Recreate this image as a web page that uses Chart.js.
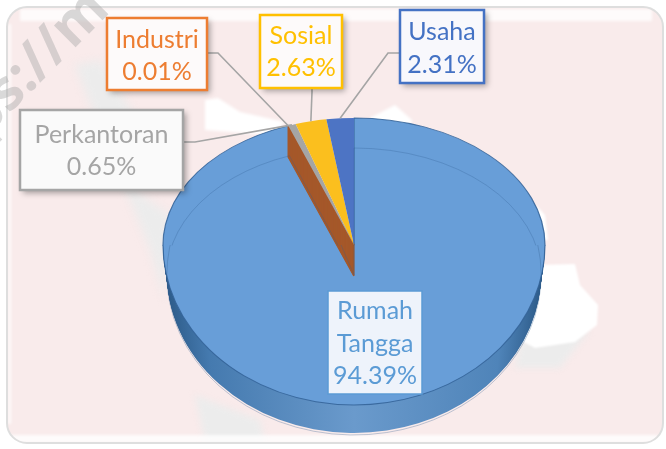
<!DOCTYPE html>
<html>
<head>
<meta charset="utf-8">
<style>html,body{margin:0;padding:0;background:#fff;overflow:hidden}canvas{display:block}</style>
<script src="https://cdn.jsdelivr.net/npm/chart.js@4"></script>
</head>
<body>
<canvas id="c" width="666" height="449"></canvas>
<script>
// Data (clockwise from 12 o'clock)
const categories = ['Rumah Tangga', 'Industri', 'Perkantoran', 'Sosial', 'Usaha'];
const shares = [94.39, 0.01, 0.65, 2.63, 2.31];
const sliceColors = ['#689ed8', '#ed7d31', '#a5a5a5', '#fbbf1e', '#4d74c4'];
const labelColors = ['#5b9bd5', '#ed7d31', '#a5a5a5', '#ffc000', '#4472c4'];

// Layout of the callouts: x, y, w, h, border width, text line tops, leader exit points
const calloutBoxes = [
  {x:328, y:291, w:94,  h:103, lw:1.5, fill:'#eef3fb', firstLine:311, step:32.5, shadow:false, leader:null},
  {x:107, y:18,  w:100, h:72,  lw:2.5, fill:'#fdfafa', firstLine:40,  step:32, shadow:true, leader:[[207,53],[218,53]]},
  {x:20,  y:110, w:163, h:80,  lw:2.5, fill:'#fafafa', firstLine:135, step:32, shadow:true, leader:[[183,142],[195,142]]},
  {x:260, y:15,  w:82,  h:73,  lw:2.5, fill:'#fdfafa', firstLine:36,  step:32, shadow:true, leader:[[312,88],[312,92]]},
  {x:400, y:10,  w:84,  h:73,  lw:2.5, fill:'#f8f8fc', firstLine:32,  step:33, shadow:true, leader:[[400,53],[388,53]]}
];

// Pie projection
const kTop = 127 / 191, kBottom = 160 / 191, wallDepth = 28, floorInset = 0.98;

function blob(ctx, pts, color, blur) {
  ctx.save();
  ctx.filter = 'blur(' + blur + 'px)';
  ctx.fillStyle = color;
  ctx.beginPath();
  pts.forEach((p, i) => i ? ctx.lineTo(p[0], p[1]) : ctx.moveTo(p[0], p[1]));
  ctx.closePath();
  ctx.fill();
  ctx.restore();
}

const backdrop = {
  id: 'backdrop',
  beforeDraw(chart) {
    const ctx = chart.ctx;
    ctx.save();
    ctx.fillStyle = '#fff';
    ctx.fillRect(0, 0, 666, 449);
    ctx.beginPath();
    ctx.roundRect(7, 7, 656, 436, 20);
    ctx.fillStyle = '#f9ebeb';
    ctx.fill();
    ctx.clip();
    // map silhouette, soft
    blob(ctx, [[75,65],[100,60],[135,115],[135,190],[170,215],[165,300],[150,250],[130,200],[100,130]], '#ececec', 4);
    blob(ctx, [[195,395],[260,420],[265,443],[205,443]], '#ececec', 3);
    blob(ctx, [[520,340],[590,330],[560,368],[515,368]], '#ececec', 3);
    blob(ctx, [[540,265],[575,264],[580,285],[598,305],[597,325],[575,342],[535,348],[520,340]], '#fff', 1);
    blob(ctx, [[536,205],[545,215],[548,240],[536,240]], '#fff', 1);
    blob(ctx, [[205,100],[218,98],[240,112],[285,122],[270,135],[205,130]], '#fff', 1.5);
    blob(ctx, [[370,118],[395,105],[412,120],[410,128],[375,128]], '#fff', 1.5);
    // glossy rim
    ctx.fillStyle = 'rgba(255,255,255,.8)';
    ctx.filter = 'blur(1.5px)';
    ctx.fillRect(20, 9, 632, 12);
    ctx.fillRect(8, 435, 650, 8);
    ctx.fillRect(8, 24, 3, 400);
    ctx.filter = 'none';
    ctx.restore();
    // card border
    ctx.save();
    ctx.beginPath();
    ctx.roundRect(7, 7, 656, 436, 20);
    ctx.strokeStyle = '#dedede';
    ctx.lineWidth = 2;
    ctx.stroke();
    // watermark
    ctx.translate(76, -24);
    ctx.rotate(-Math.PI / 4);
    ctx.font = 'bold 56px "Open Sans"';
    ctx.fillStyle = 'rgba(170,170,170,.45)';
    ctx.textAlign = 'right';
    ctx.textBaseline = 'alphabetic';
    ctx.fillText('https://m', 0, 50);
    ctx.restore();
  }
};

function drawArc(ctx, arc, overrides) {
  const saved = arc.options;
  arc.options = Object.assign({}, saved, overrides);
  arc.draw(ctx);
  arc.options = saved;
}
function project(ctx, arc, k, dy, sx) {
  ctx.translate(arc.x, arc.y + dy);
  ctx.scale(sx || 1, k);
  ctx.translate(-arc.x, -arc.y);
}
function clipHalf(ctx, arc, upper) {
  ctx.beginPath();
  if (upper) ctx.rect(0, 0, 666, arc.y + 0.5);
  else ctx.rect(0, arc.y, 666, 449 - arc.y);
  ctx.clip();
}
// Draw one arc with the two-part perspective squash
function drawProjected(ctx, arc, overrides, dy, sx) {
  ctx.save(); clipHalf(ctx, arc, true); project(ctx, arc, kTop, dy || 0, sx); drawArc(ctx, arc, overrides); ctx.restore();
  ctx.save(); clipHalf(ctx, arc, false); project(ctx, arc, kBottom, dy || 0, sx); drawArc(ctx, arc, overrides); ctx.restore();
}

const pie3d = {
  id: 'pie3d',
  beforeDatasetDraw(chart) {
    const ctx = chart.ctx, arcs = chart.getDatasetMeta(0).data;
    const main = arcs[0], r = main.outerRadius;
    // outer wall of the big slice, tapering toward the floor
    const wall = ctx.createLinearGradient(main.x - r, 0, main.x + r, 0);
    wall.addColorStop(0, '#2c5a88');
    wall.addColorStop(0.12, '#457aaf');
    wall.addColorStop(0.5, '#6a9acc');
    wall.addColorStop(0.88, '#4f84b9');
    wall.addColorStop(1, '#2c5a88');
    for (let d = wallDepth; d >= 1; d--) {
      ctx.save();
      clipHalf(ctx, main, false);
      project(ctx, main, kBottom, d, 1 - (1 - floorInset) * d / wallDepth);
      drawArc(ctx, main, {backgroundColor: wall, borderWidth: 0});
      ctx.restore();
    }
    // top surface
    drawProjected(ctx, main, {borderWidth: 1.2, borderColor: 'rgba(50,98,150,.85)'});
    // inner wall, colored after the thin slice
    const thin = arcs[1];
    for (let d = wallDepth + 3; d >= 0; d--) {
      ctx.save();
      project(ctx, thin, kTop, d);
      drawArc(ctx, thin, {backgroundColor: '#a5582a', borderColor: '#a5582a', borderWidth: 1.6});
      ctx.restore();
    }
    // remaining tops
    [2, 3, 4].forEach(i => {
      ctx.save();
      project(ctx, arcs[i], kTop, 0);
      drawArc(ctx, arcs[i], {borderWidth: 0});
      ctx.restore();
    });
    // floor ellipse seen through the surface
    drawProjected(ctx, main, {backgroundColor: 'rgba(0,0,0,0)', borderWidth: 1, borderColor: 'rgba(50,95,145,.35)'}, 30, floorInset);
    return false;
  }
};

const callouts = {
  id: 'callouts',
  afterDraw(chart) {
    const ctx = chart.ctx, arcs = chart.getDatasetMeta(0).data;
    ctx.save();
    // leaders
    ctx.strokeStyle = '#a5a5a5';
    ctx.lineWidth = 1.6;
    calloutBoxes.forEach((b, i) => {
      if (!b.leader) return;
      const a = arcs[i], mid = (a.startAngle + a.endAngle) / 2;
      ctx.beginPath();
      ctx.moveTo(b.leader[0][0], b.leader[0][1]);
      ctx.lineTo(b.leader[1][0], b.leader[1][1]);
      ctx.lineTo(a.x + Math.cos(mid) * a.outerRadius, a.y + Math.sin(mid) * a.outerRadius * kTop);
      ctx.stroke();
    });
    // boxes
    calloutBoxes.forEach((b, i) => {
      ctx.save();
      if (b.shadow) {
        ctx.shadowColor = 'rgba(0,0,0,.35)';
        ctx.shadowBlur = 6;
        ctx.shadowOffsetX = 3;
        ctx.shadowOffsetY = 3;
      }
      ctx.fillStyle = b.fill;
      ctx.fillRect(b.x, b.y, b.w, b.h);
      ctx.restore();
      ctx.strokeStyle = labelColors[i];
      ctx.lineWidth = b.lw;
      ctx.strokeRect(b.x, b.y, b.w, b.h);
      const lines = categories[i].split(' ').concat(shares[i].toFixed(2) + '%');
      ctx.fillStyle = labelColors[i];
      ctx.font = '25px Lato';
      ctx.textAlign = 'center';
      ctx.textBaseline = 'middle';
      lines.forEach((t, n) => ctx.fillText(t, b.x + b.w / 2, b.firstLine + n * b.step));
    });
    ctx.restore();
  }
};

new Chart(document.getElementById('c'), {
  type: 'pie',
  data: {
    labels: categories,
    datasets: [{data: shares, backgroundColor: sliceColors, borderWidth: 0}]
  },
  options: {
    responsive: false,
    animation: false,
    layout: {padding: {left: 163, right: 121, top: 54, bottom: 13}},
    plugins: {legend: {display: false}, tooltip: {enabled: false}}
  },
  plugins: [backdrop, pie3d, callouts]
});
</script>
</body>
</html>
